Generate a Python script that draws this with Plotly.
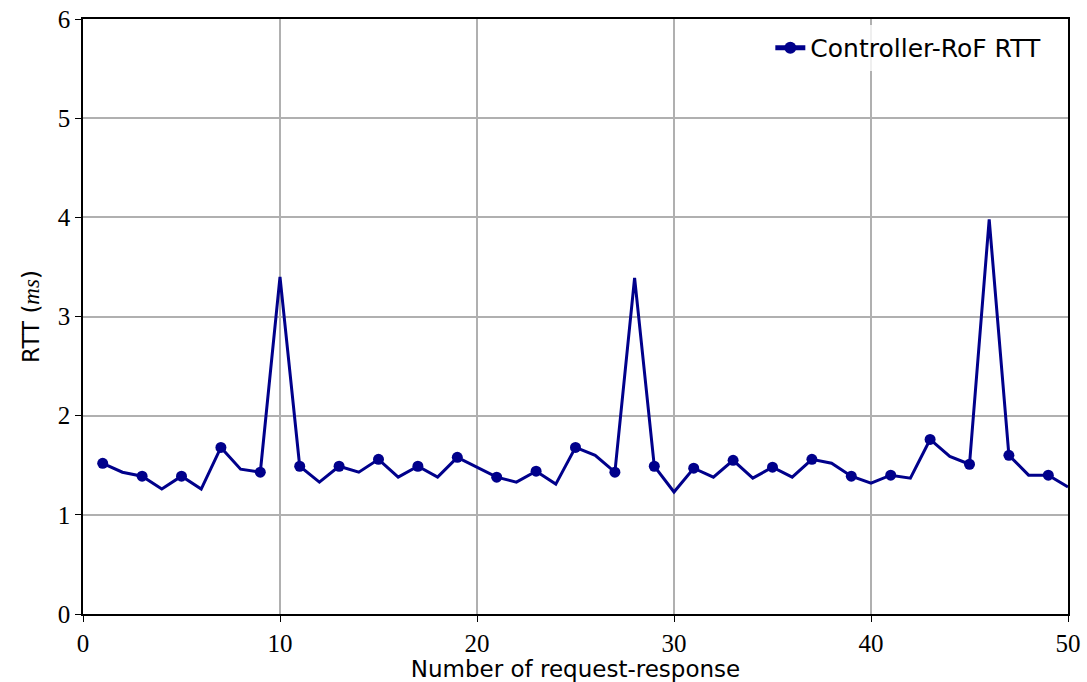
import plotly.graph_objects as go

x_vals = list(range(1, 51))
rtt_ms = [1.52, 1.43, 1.39, 1.26, 1.39, 1.26, 1.68, 1.46, 1.43, 3.40,
          1.49, 1.33, 1.49, 1.43, 1.56, 1.38, 1.49, 1.38, 1.58, 1.48,
          1.38, 1.33, 1.44, 1.31, 1.68, 1.60, 1.43, 3.39, 1.49, 1.23,
          1.47, 1.38, 1.55, 1.37, 1.48, 1.38, 1.56, 1.52, 1.39, 1.32,
          1.40, 1.37, 1.76, 1.59, 1.51, 3.98, 1.60, 1.40, 1.40, 1.28]
x_ticks = [0, 10, 20, 30, 40, 50]
y_ticks = [0, 1, 2, 3, 4, 5, 6]

color = "#00008B"
marker_sizes = [11 if (x % 2 == 1) else 0 for x in x_vals]

fig = go.Figure()
fig.add_trace(go.Scatter(
    x=x_vals, y=rtt_ms, mode="lines+markers",
    name="Controller-RoF RTT",
    line=dict(color=color, width=3),
    marker=dict(color=color, size=marker_sizes, opacity=1, line=dict(width=0)),
))

tick_font = dict(family="Liberation Serif, DejaVu Serif, serif", size=25, color="black")
label_font = dict(family="DejaVu Sans, Liberation Sans, sans-serif", size=23, color="black")
legend_font = dict(family="DejaVu Sans, Liberation Sans, sans-serif", size=25, color="black")

fig.update_layout(
    width=1087, height=682,
    margin=dict(l=83, r=19, t=19, b=68),
    paper_bgcolor="white", plot_bgcolor="white",
    showlegend=True,
    legend=dict(x=0.978, y=0.99, xanchor="right", yanchor="top",
                font=legend_font, bgcolor="rgba(255,255,255,0.8)",
                itemsizing="constant"),
    xaxis=dict(range=[0, 50], tickvals=x_ticks, ticks="outside", ticklen=6,
               tickcolor="black", tickfont=tick_font, automargin=False,
               showgrid=True, gridcolor="#b0b0b0", gridwidth=1.5,
               showline=True, linecolor="black", linewidth=1.5, mirror=True,
               zeroline=False,
               title=dict(text="Number of request-response", font=label_font, standoff=3)),
    yaxis=dict(range=[0, 6], tickvals=y_ticks, ticks="outside", ticklen=6,
               tickcolor="black", tickfont=tick_font, automargin=False,
               showgrid=True, gridcolor="#b0b0b0", gridwidth=1.5,
               showline=True, linecolor="black", linewidth=1.5, mirror=True,
               zeroline=False,
               title=dict(text="RTT (<span style='font-family:Liberation Serif'><i>ms</i></span>)",
                          font=label_font, standoff=12)),
)

fig.write_html("out.html")
